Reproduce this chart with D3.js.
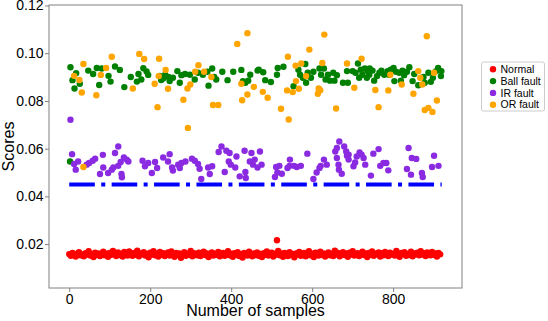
<!DOCTYPE html>
<html>
<head>
<meta charset="utf-8">
<script src="https://cdn.jsdelivr.net/npm/d3@7/dist/d3.min.js"></script>
<style>
  body { margin: 0; background: #fff; }
  svg text { font-family: "Liberation Sans", Arial, sans-serif; }
</style>
</head>
<body>
<div id="chart"></div>
<script>
// ---------- data ----------
const seriesNames = ["Normal", "Ball fault", "IR fault", "OR fault"];
const seriesColors = ["#ff0000", "#008000", "#8a2be2", "#ffa500"];
const xTicks = [0, 200, 400, 600, 800];
const yTicks = [0.02, 0.04, 0.06, 0.08, 0.10, 0.12];
const threshold = 0.045;
const thresholdSpan = [0, 920];

// Normal: one score every 4 samples
const normalStep = 4;
const normalScores = [
  0.0158,0.0151,0.0163,0.0155,0.0148,0.0160,0.0166,0.0153,0.0157,0.0149,0.0162,0.0156,0.0170,0.0152,0.0159,0.0146,0.0164,0.0155,0.0161,0.0150,
  0.0157,0.0168,0.0153,0.0160,0.0147,0.0163,0.0155,0.0171,0.0158,0.0150,0.0165,0.0154,0.0160,0.0148,0.0167,0.0156,0.0152,0.0169,0.0158,0.0151,
  0.0163,0.0155,0.0172,0.0149,0.0161,0.0157,0.0166,0.0152,0.0159,0.0145,0.0164,0.0156,0.0170,0.0153,0.0160,0.0148,0.0167,0.0155,0.0162,0.0150,
  0.0158,0.0165,0.0152,0.0169,0.0156,0.0147,0.0163,0.0154,0.0161,0.0143,0.0158,0.0166,0.0151,0.0160,0.0155,0.0171,0.0149,0.0162,0.0157,0.0153,
  0.0164,0.0150,0.0159,0.0168,0.0154,0.0161,0.0146,0.0157,0.0165,0.0152,0.0160,0.0155,0.0167,0.0149,0.0158,0.0163,0.0151,0.0156,0.0170,0.0153,
  0.0160,0.0147,0.0162,0.0155,0.0166,0.0150,0.0158,0.0144,0.0163,0.0156,0.0152,0.0168,0.0157,0.0149,0.0161,0.0154,0.0165,0.0151,0.0159,0.0146,
  0.0162,0.0155,0.0169,0.0152,0.0158,0.0164,0.0148,0.0160,0.0156,0.0171,0.0153,0.0161,0.0147,0.0163,0.0157,0.0150,0.0166,0.0154,0.0159,0.0145,
  0.0161,0.0156,0.0167,0.0151,0.0158,0.0163,0.0149,0.0155,0.0170,0.0153,0.0160,0.0146,0.0164,0.0157,0.0152,0.0168,0.0155,0.0161,0.0148,0.0159,
  0.0165,0.0153,0.0160,0.0150,0.0172,0.0157,0.0163,0.0149,0.0158,0.0166,0.0154,0.0161,0.0147,0.0164,0.0156,0.0170,0.0152,0.0159,0.0162,0.0150,
  0.0157,0.0168,0.0154,0.0161,0.0146,0.0163,0.0155,0.0169,0.0151,0.0160,0.0157,0.0165,0.0148,0.0162,0.0153,0.0167,0.0158,0.0150,0.0164,0.0156,
  0.0160,0.0152,0.0171,0.0155,0.0147,0.0163,0.0158,0.0166,0.0151,0.0159,0.0154,0.0168,0.0149,0.0161,0.0157,0.0164,0.0153,0.0170,0.0156,0.0162,
  0.0150,0.0165,0.0158,0.0153,0.0167,0.0155,0.0161,0.0148,0.0163,0.0157
];
const normalOutlierX = [513];
const normalOutlierY = [0.0216];

const ballX = [2,3,8,13,17,26,47,59,68,74,80,97,102,113,125,136,152,167,171,178,183,191,195,224,227,232,237,245,248,256,267,273,277,286,298,310,318,330,341,344,353,358,363,378,391,405,425,429,435,442,447,465,468,479,484,498,513,515,529,554,566,570,577,583,585,589,597,603,618,622,629,633,639,644,652,655,661,676,686,688,700,707,713,716,720,724,730,735,737,741,742,749,753,760,766,771,778,786,790,794,801,803,807,815,819,823,827,834,840,848,852,862,875,878,887,893,898,906,911,918,919];
const ballY = [0.0546,0.0941,0.0887,0.0852,0.0916,0.0872,0.0927,0.0913,0.0938,0.0867,0.0936,0.0905,0.0881,0.0944,0.0930,0.0858,0.0900,0.0881,0.0913,0.0890,0.0937,0.0923,0.0909,0.0905,0.0888,0.0894,0.0910,0.0900,0.0883,0.0897,0.0925,0.0876,0.0908,0.0913,0.0910,0.0890,0.0918,0.0910,0.0922,0.0864,0.0936,0.0900,0.0890,0.0922,0.0887,0.0922,0.0930,0.0883,0.0876,0.0885,0.0910,0.0927,0.0931,0.0920,0.0887,0.0879,0.0910,0.0938,0.0943,0.0862,0.0931,0.0910,0.0897,0.0955,0.0876,0.0918,0.0897,0.0922,0.0936,0.0910,0.0936,0.0890,0.0910,0.0885,0.0918,0.0885,0.0908,0.0876,0.0925,0.0876,0.0925,0.0918,0.0957,0.0897,0.0931,0.0910,0.0936,0.0897,0.0925,0.0910,0.0936,0.0927,0.0885,0.0904,0.0918,0.0927,0.0910,0.0925,0.0910,0.0931,0.0938,0.0883,0.0922,0.0918,0.0885,0.0927,0.0908,0.0922,0.0941,0.0883,0.0913,0.0866,0.0900,0.0876,0.0918,0.0880,0.0897,0.0925,0.0938,0.0904,0.0925];

const irX = [3,7,12,16,22,43,49,58,64,76,83,84,96,105,109,113,121,121,127,129,130,135,142,146,181,187,195,204,212,217,232,244,248,254,256,269,273,277,287,303,310,318,322,326,343,347,353,369,376,384,388,394,396,399,410,413,421,433,435,436,446,450,454,458,465,471,475,508,511,514,519,525,539,544,545,555,562,572,588,603,611,618,621,629,636,657,661,661,665,666,667,673,679,684,686,690,690,702,706,710,717,722,727,731,745,751,764,768,776,783,788,834,838,844,846,857,871,873,896,901,912];
const irY = [0.0721,0.0577,0.0536,0.0512,0.0546,0.0533,0.0540,0.0549,0.0558,0.0494,0.0574,0.0521,0.0498,0.0512,0.0521,0.0582,0.0609,0.0528,0.0544,0.0494,0.0480,0.0563,0.0554,0.0546,0.0549,0.0526,0.0540,0.0498,0.0544,0.0519,0.0563,0.0546,0.0577,0.0521,0.0508,0.0533,0.0519,0.0540,0.0546,0.0558,0.0549,0.0536,0.0516,0.0473,0.0521,0.0494,0.0526,0.0586,0.0609,0.0502,0.0591,0.0546,0.0582,0.0533,0.0521,0.0567,0.0484,0.0591,0.0502,0.0477,0.0546,0.0582,0.0533,0.0554,0.0521,0.0588,0.0533,0.0481,0.0523,0.0500,0.0528,0.0495,0.0519,0.0528,0.0554,0.0528,0.0523,0.0528,0.0579,0.0473,0.0500,0.0519,0.0528,0.0554,0.0533,0.0588,0.0561,0.0603,0.0533,0.0512,0.0630,0.0495,0.0609,0.0588,0.0570,0.0554,0.0575,0.0526,0.0542,0.0567,0.0584,0.0575,0.0561,0.0533,0.0487,0.0579,0.0598,0.0528,0.0540,0.0540,0.0509,0.0515,0.0603,0.0491,0.0561,0.0557,0.0498,0.0481,0.0523,0.0570,0.0528];

const orX = [12,25,31,35,35,67,78,91,105,157,173,185,211,218,221,222,238,244,282,292,293,299,311,319,333,351,355,368,415,425,427,440,440,456,478,490,523,538,540,542,552,559,560,567,573,585,593,614,616,620,625,630,659,686,704,722,756,764,788,793,821,850,862,867,872,878,883,887,897,901,908];
const orY = [0.0905,0.0888,0.0835,0.0955,0.0523,0.0824,0.0909,0.0938,0.0985,0.0852,0.0997,0.0976,0.0872,0.0774,0.0904,0.0977,0.0930,0.0851,0.0805,0.0852,0.0687,0.0869,0.0922,0.0950,0.0922,0.0900,0.0783,0.0783,0.1039,0.0872,0.0803,0.1084,0.0827,0.0859,0.0838,0.0813,0.0767,0.0844,0.0985,0.0722,0.0837,0.0948,0.0883,0.0851,0.0957,0.0904,0.1015,0.0830,0.0852,0.0845,0.0959,0.1078,0.0768,0.0957,0.0855,0.0977,0.0846,0.0774,0.0844,0.0910,0.0869,0.0830,0.0925,0.0897,0.0869,0.0762,0.1071,0.0771,0.0754,0.0918,0.0802];

// ---------- layout ----------
const W = 548, H = 321;
const plot = { left: 49, top: 5, right: 462, bottom: 288 };

const svg = d3.select("#chart")
  .append("svg")
  .attr("width", W)
  .attr("height", H);

svg.append("rect").attr("width", W).attr("height", H).attr("fill", "#fff");

const x = d3.scaleLinear().domain([-50, 970]).range([plot.left, plot.right]);
const y = d3.scaleLinear().domain([0.0016, 0.1202]).range([plot.bottom, plot.top]);

const r = 3.2;

const normalPts = normalScores.map((v, i) => ({ x: i * normalStep, y: v }))
  .concat(normalOutlierX.map((v, i) => ({ x: v, y: normalOutlierY[i] })));
const ballPts = ballX.map((v, i) => ({ x: v, y: ballY[i] }));
const irPts = irX.map((v, i) => ({ x: v, y: irY[i] }));
const orPts = orX.map((v, i) => ({ x: v, y: orY[i] }));

const layers = [normalPts, ballPts, irPts, orPts];

layers.forEach((pts, k) => {
  svg.append("g")
    .attr("fill", seriesColors[k])
    .selectAll("circle")
    .data(pts)
    .join("circle")
    .attr("cx", d => x(d.x))
    .attr("cy", d => y(d.y))
    .attr("r", r);
});

// threshold line (dash-dot)
svg.append("line")
  .attr("x1", x(thresholdSpan[0]))
  .attr("x2", x(thresholdSpan[1]))
  .attr("y1", y(threshold))
  .attr("y2", y(threshold))
  .attr("stroke", "#0000ff")
  .attr("stroke-width", 4)
  .attr("stroke-dasharray", "25.6,6.4,4,6.4");

// frame
svg.append("rect")
  .attr("x", plot.left)
  .attr("y", plot.top)
  .attr("width", plot.right - plot.left)
  .attr("height", plot.bottom - plot.top)
  .attr("fill", "none")
  .attr("stroke", "#808080")
  .attr("stroke-width", 1);

// axes
const yAxis = svg.append("g")
  .attr("transform", `translate(${plot.left},0)`)
  .call(d3.axisLeft(y).tickValues(yTicks).tickFormat(d3.format(".2f")).tickSize(4).tickPadding(1.5));
const xAxis = svg.append("g")
  .attr("transform", `translate(0,${plot.bottom})`)
  .call(d3.axisBottom(x).tickValues(xTicks).tickSize(4).tickPadding(2));

[xAxis, yAxis].forEach(a => {
  a.select(".domain").remove();
  a.selectAll(".tick line").attr("stroke", "#808080");
  a.selectAll(".tick text")
    .attr("fill", "#000")
    .style("font-size", "14px")
    .style("font-family", "\"Liberation Sans\", Arial, sans-serif");
});

// axis titles
svg.append("text")
  .attr("x", (plot.left + plot.right) / 2)
  .attr("y", 316)
  .attr("text-anchor", "middle")
  .attr("font-size", "16px")
  .text("Number of samples");

svg.append("text")
  .attr("transform", `translate(13.5,${(plot.top + plot.bottom) / 2}) rotate(-90)`)
  .attr("text-anchor", "middle")
  .attr("font-size", "16px")
  .text("Scores");

// legend
const legend = svg.append("g").attr("transform", "translate(481.5,62)");
legend.append("rect")
  .attr("width", 63)
  .attr("height", 49)
  .attr("rx", 2)
  .attr("fill", "#fff")
  .attr("stroke", "#cccccc");

seriesNames.forEach((name, i) => {
  legend.append("circle")
    .attr("cx", 11.5)
    .attr("cy", 7.3 + i * 11.8)
    .attr("r", 3.2)
    .attr("fill", seriesColors[i]);
  legend.append("text")
    .attr("x", 19)
    .attr("y", 7.3 + i * 11.8)
    .attr("dy", "0.36em")
    .attr("font-size", "10.5px")
    .text(name);
});
</script>
</body>
</html>
